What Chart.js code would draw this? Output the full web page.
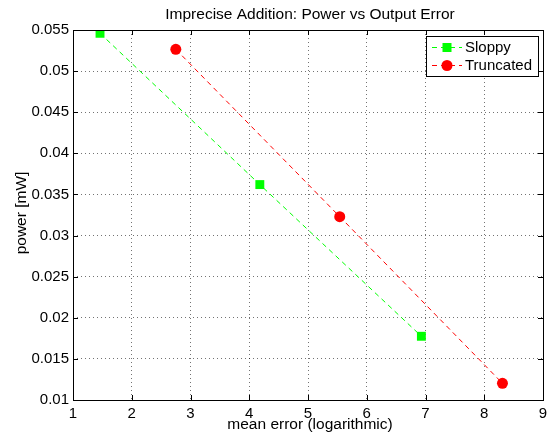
<!DOCTYPE html>
<html>
<head>
<meta charset="utf-8">
<script src="https://cdn.jsdelivr.net/npm/chart.js@4/dist/chart.umd.min.js"></script>
<style>
  html, body { margin: 0; padding: 0; background: #fff; }
  canvas { display: block; }
</style>
</head>
<body>
<canvas id="chart" width="560" height="437"></canvas>
<script>
const sloppyError = [1.46, 4.18, 6.93];
const sloppyPower = [0.0546, 0.0362, 0.01775];
const truncatedError = [2.75, 5.54, 8.31];
const truncatedPower = [0.05265, 0.0323, 0.01203];
const xTicks = [1, 2, 3, 4, 5, 6, 7, 8, 9];
const yTicks = [0.01, 0.015, 0.02, 0.025, 0.03, 0.035, 0.04, 0.045, 0.05, 0.055];

const FONT = "'Liberation Sans', Arial, Helvetica, sans-serif";
const GREEN = "#00ff00";
const RED = "#ff0000";

function points(xs, ys) {
  return xs.map((x, i) => ({ x, y: ys[i] }));
}

function drawMarker(ctx, style, x, y, color) {
  ctx.fillStyle = color;
  if (style === "rect") {
    ctx.fillRect(x - 4.5, y - 4.5, 9, 9);
  } else {
    ctx.beginPath();
    ctx.arc(x, y, 5.5, 0, Math.PI * 2);
    ctx.fill();
  }
}

// frame, inward ticks, labels and legend drawn MATLAB style
const matlabFrame = {
  id: "matlabFrame",
  afterDraw(chart) {
    const { ctx, chartArea: a, scales } = chart;
    ctx.save();

    ctx.strokeStyle = "#000";
    ctx.lineWidth = 1;
    ctx.setLineDash([]);
    ctx.beginPath();
    xTicks.forEach(v => {
      const px = Math.round(scales.x.getPixelForValue(v)) + 0.5;
      ctx.moveTo(px, a.bottom); ctx.lineTo(px, a.bottom - 5);
      ctx.moveTo(px, a.top); ctx.lineTo(px, a.top + 5);
    });
    yTicks.forEach(v => {
      const py = Math.round(scales.y.getPixelForValue(v)) + 0.5;
      ctx.moveTo(a.left, py); ctx.lineTo(a.left + 5, py);
      ctx.moveTo(a.right, py); ctx.lineTo(a.right - 5, py);
    });
    ctx.stroke();
    ctx.strokeRect(Math.round(a.left) + 0.5, Math.round(a.top) + 0.5,
      Math.round(a.right - a.left), Math.round(a.bottom - a.top));

    ctx.fillStyle = "#000";
    ctx.textAlign = "center";
    ctx.textBaseline = "middle";
    ctx.font = "15.5px " + FONT;
    const cx = (a.left + a.right) / 2 + 2;
    ctx.fillText("Imprecise Addition: Power vs Output Error", cx, 15);
    ctx.fillText("mean error (logarithmic)", cx, 425);
    ctx.save();
    ctx.translate(22, 213);
    ctx.rotate(-Math.PI / 2);
    ctx.fillText("power [mW]", 0, 0);
    ctx.restore();

    // legend
    const box = { x: 426, y: 36, w: 112, h: 40 };
    ctx.fillStyle = "#fff";
    ctx.fillRect(box.x, box.y, box.w, box.h);
    ctx.strokeStyle = "#000";
    ctx.lineWidth = 1;
    ctx.strokeRect(box.x + 0.5, box.y + 0.5, box.w, box.h);
    const entries = [
      { label: "Sloppy", color: GREEN, marker: "rect", y: 47 },
      { label: "Truncated", color: RED, marker: "circle", y: 65 }
    ];
    entries.forEach(e => {
      ctx.strokeStyle = e.color;
      ctx.setLineDash([5, 4]);
      ctx.beginPath();
      ctx.moveTo(432, e.y + 0.5); ctx.lineTo(462, e.y + 0.5);
      ctx.stroke();
      ctx.setLineDash([]);
      drawMarker(ctx, e.marker, 447, e.y + 0.5, e.color);
      ctx.fillStyle = "#000";
      ctx.textAlign = "left";
      ctx.font = "15px " + FONT;
      ctx.fillText(e.label, 465, e.y + 1);
    });

    ctx.restore();
  }
};

new Chart(document.getElementById("chart"), {
  type: "scatter",
  data: {
    datasets: [
      {
        label: "Sloppy",
        data: points(sloppyError, sloppyPower),
        showLine: true,
        borderColor: GREEN,
        backgroundColor: GREEN,
        borderWidth: 1,
        borderDash: [5, 4],
        pointStyle: "rect",
        pointRadius: 6.3,
        pointBorderWidth: 0
      },
      {
        label: "Truncated",
        data: points(truncatedError, truncatedPower),
        showLine: true,
        borderColor: RED,
        backgroundColor: RED,
        borderWidth: 1,
        borderDash: [5, 4],
        pointStyle: "circle",
        pointRadius: 5.5,
        pointBorderWidth: 0
      }
    ]
  },
  options: {
    responsive: false,
    animation: false,
    layout: { padding: { left: 0, top: 30, right: 17, bottom: 0 } },
    plugins: {
      legend: { display: false },
      title: { display: false },
      tooltip: { enabled: false }
    },
    scales: {
      x: {
        type: "linear",
        min: 1,
        max: 9,
        afterBuildTicks: scale => { scale.ticks = xTicks.map(value => ({ value })); },
        afterFit: scale => { scale.height = 37; },
        grid: { color: "rgba(0,0,0,0.55)", drawTicks: false, lineWidth: 1 },
        border: { display: false, dash: [1, 3] },
        ticks: { padding: 5, color: "#000", font: { family: FONT, size: 15 }, maxRotation: 0 }
      },
      y: {
        type: "linear",
        min: 0.01,
        max: 0.055,
        afterBuildTicks: scale => { scale.ticks = yTicks.map(value => ({ value })); },
        afterFit: scale => { scale.width = 73; },
        grid: { color: "rgba(0,0,0,0.55)", drawTicks: false, lineWidth: 1 },
        border: { display: false, dash: [1, 3] },
        ticks: {
          padding: 4,
          color: "#000",
          font: { family: FONT, size: 15 },
          callback: value => String(+value.toFixed(3))
        }
      }
    }
  },
  plugins: [matlabFrame]
});
</script>
</body>
</html>
